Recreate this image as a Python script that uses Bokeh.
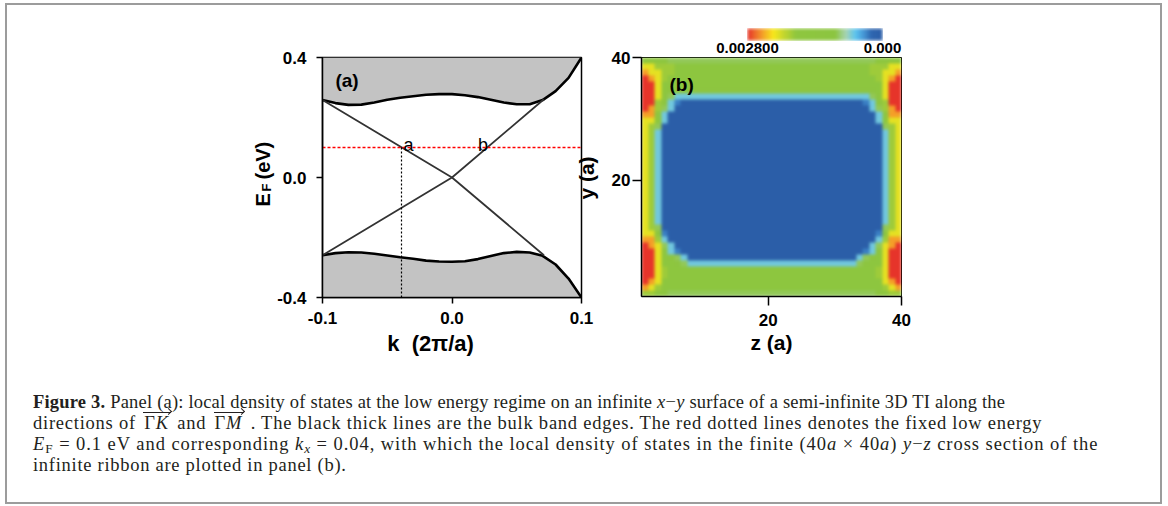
import math
import numpy as np
from bokeh.plotting import figure
from bokeh.models import (Range1d, FixedTicker, PrintfTickFormatter, Label, ColorBar,
                          LinearColorMapper, CustomJSTickFormatter, Div, CustomJS)
from bokeh.layouts import row, column
from bokeh.document import Document
from bokeh.events import DocumentReady
from bokeh.embed import file_html
from bokeh.resources import INLINE
from bokeh.core.properties import value

# ---------------- Panel (a) data ----------------
K_RANGE = [-0.1, 0.1]
E_RANGE = [-0.4, 0.4]
K_TICKS = [-0.1, 0.0, 0.1]
E_TICKS = [-0.4, 0.0, 0.4]

K_EDGE = [-0.1, -0.09, -0.08, -0.07, -0.06, -0.05, -0.04, -0.03, -0.02, -0.01, 0.0,
          0.01, 0.02, 0.03, 0.04, 0.05, 0.06, 0.07, 0.08, 0.09, 0.1]
E_UPPER = [0.258, 0.248, 0.242, 0.243, 0.250, 0.259, 0.266, 0.271, 0.276, 0.278, 0.278,
           0.274, 0.268, 0.259, 0.250, 0.244, 0.244, 0.258, 0.288, 0.332, 0.400]
E_LOWER = [-0.259, -0.252, -0.249, -0.250, -0.254, -0.260, -0.266, -0.271, -0.277, -0.280, -0.281,
           -0.279, -0.272, -0.262, -0.252, -0.248, -0.250, -0.261, -0.290, -0.337, -0.400]

SURF_K = [-0.1, 0.0, 0.071]
SURF_E_DOWN = [0.258, 0.0, -0.259]
SURF_E_UP = [-0.259, 0.0, 0.261]

FERMI_E = 0.1
KX_MARK = -0.039
POINT_LABELS = ["a", "b"]
POINT_LABEL_K = [-0.0374, 0.020]

# ---------------- Panel (b) data ----------------
LDOS_MAX = 0.0028
Z_RANGE = [1, 40]
Y_RANGE = [1, 40]
Z_TICKS = [20, 40]
Y_TICKS = [20, 40]
# LDOS levels (0..9 -> level/9 * LDOS_MAX), rows y=40 (top) .. y=1 (bottom),
# columns z=1..20 (left half; the right half mirrors it)
LDOS_LEFT = [
    "55443333333333333333",  # y=40
    "77666555555555555555",
    "87766555555555555555",
    "98765555555555555555",
    "99755555555555555555",
    "99754444444444444444",  # y=35
    "99743222222222222222",
    "99642100000000000000",
    "98632000000000000000",
    "88520000000000000000",
    "77520000000000000000",  # y=30
    "76300000000000000000",
    "76200000000000000000",
    "76200000000000000000",
    "76200000000000000000",
    "76200000000000000000",  # y=25
    "76200000000000000000",
    "76200000000000000000",
    "76200000000000000000",
    "76200000000000000000",
    "76200000000000000000",  # y=20
    "76200000000000000000",
    "76200000000000000000",
    "76200000000000000000",
    "76200000000000000000",
    "76200000000000000000",  # y=15
    "76200000000000000000",
    "76200000000000000000",
    "76300000000000000000",
    "77410000000000000000",
    "88620000000000000000",  # y=10
    "98732000000000000000",
    "99742100000000000000",
    "99754320000000000000",
    "99755432222222222222",
    "99765555555555555555",  # y=5
    "99765555555555555555",
    "98755555555555555555",
    "87655555555555555555",
    "66543333333333333333",  # y=1
]

# colour scale stops (fraction of LDOS_MAX -> colour)
CMAP_T = [0.0, 0.08, 0.15, 0.2, 0.27, 0.35, 0.64, 0.74, 0.81, 0.9, 1.0]
CMAP_C = ["#2b5ea8", "#2e66b0", "#4aa0dc", "#5cc4ef", "#a8d4b4", "#8cc540",
          "#8ec63f", "#c9d82c", "#f9e81b", "#f3962a", "#e6342a"]


def hex2rgb(h):
    return [int(h[i:i + 2], 16) for i in (1, 3, 5)]


def build_palette(n=256):
    rgbs = [hex2rgb(c) for c in CMAP_C]
    pal = []
    for i in range(n):
        t = 1.0 - i / (n - 1)  # index 0 = high value (red)
        for j in range(len(CMAP_T) - 1):
            if CMAP_T[j] <= t <= CMAP_T[j + 1]:
                f = (t - CMAP_T[j]) / (CMAP_T[j + 1] - CMAP_T[j])
                c = [round(rgbs[j][m] + f * (rgbs[j + 1][m] - rgbs[j][m])) for m in range(3)]
                break
        pal.append("#%02x%02x%02x" % tuple(c))
    return pal


PALETTE = build_palette()

rows_full = [s + s[::-1] for s in LDOS_LEFT]
ldos = np.array([[int(ch) for ch in r] for r in rows_full], dtype=float)[::-1] / 9.0 * LDOS_MAX

SANS = "Liberation Sans"
TICK_FS = "17px"
LAB_FS = "21px"


def style_axis(ax, ticks, fmt=None, tick_out=6, standoff=8):
    ax.ticker = FixedTicker(ticks=ticks)
    if fmt is not None:
        ax.formatter = fmt
    ax.major_label_text_font = SANS
    ax.major_label_text_font_style = "bold"
    ax.major_label_text_font_size = TICK_FS
    ax.major_label_text_color = "black"
    ax.axis_label_text_font = SANS
    ax.axis_label_text_font_style = "bold"
    ax.axis_label_text_font_size = LAB_FS
    ax.axis_label_text_color = "black"
    ax.axis_line_color = "black"
    ax.axis_line_width = 1.5
    ax.major_tick_line_color = "black"
    ax.major_tick_line_width = 1.5
    ax.major_tick_out = tick_out
    ax.major_tick_in = 0
    ax.minor_tick_line_color = None
    ax.major_label_standoff = standoff


def side_label(fig, x, y, txt, fs, align="left"):
    fig.add_layout(Label(x=x, y=y, text=txt, angle=math.pi / 2, text_font=SANS,
                         text_font_style="bold", text_font_size=fs, text_color="black",
                         text_align=align, text_baseline="alphabetic"), "left")


# ---------------- Panel (a) figure ----------------
pa = figure(width=600, height=365, frame_width=259, frame_height=240,
            min_border_left=315, min_border_right=26, min_border_top=51, min_border_bottom=74,
            x_range=Range1d(*K_RANGE), y_range=Range1d(*E_RANGE),
            output_backend="svg", toolbar_location=None)
pa.grid.visible = False
pa.outline_line_color = "black"
pa.outline_line_width = 1.5
pa.background_fill_color = "white"
pa.border_fill_alpha = 0

style_axis(pa.xaxis[0], K_TICKS, PrintfTickFormatter(format="%.1f"), 6, 8)
style_axis(pa.yaxis[0], E_TICKS, PrintfTickFormatter(format="%.1f"), 6, 10)
# label sits left of the frame centre in the original: trailing no-break spaces shift it
pa.xaxis.axis_label = "k\u00a0\u00a0(2π/a)" + "\u00a0" * 7
pa.xaxis.axis_label_text_font_size = "22px"
pa.xaxis.axis_label_standoff = 4

n = len(K_EDGE)
pa.varea(x=K_EDGE, y1=E_UPPER, y2=[E_RANGE[1]] * n, fill_color="#c3c3c3")
pa.varea(x=K_EDGE, y1=[E_RANGE[0]] * n, y2=E_LOWER, fill_color="#c3c3c3")
pa.line(K_EDGE, E_UPPER, line_color="black", line_width=2.6)
pa.line(K_EDGE, E_LOWER, line_color="black", line_width=2.6)
pa.line(SURF_K, SURF_E_DOWN, line_color="#333333", line_width=1.8)
pa.line(SURF_K, SURF_E_UP, line_color="#333333", line_width=1.8)
pa.line(K_RANGE, [FERMI_E, FERMI_E], line_color="red", line_width=1.5, line_dash="3 2")
pa.line([KX_MARK, KX_MARK], [E_RANGE[0], FERMI_E], line_color="black", line_width=1.2, line_dash="2 2")
pa.text(x=POINT_LABEL_K, y=[FERMI_E + 0.008] * 2, text=POINT_LABELS,
        text_font=value(SANS), text_font_size="18px", text_color="black",
        text_baseline="alphabetic", text_align="left")

pa.add_layout(Label(x=-0.09, y=0.325, text="(a)", text_font=SANS, text_font_style="bold",
                    text_font_size="19px", text_color="black", text_baseline="alphabetic"))
# y-axis label E_F (eV), rotated, in a side panel so it is not clipped to the frame
side_label(pa, -0.1456, -0.0967, "E", "20px")
side_label(pa, -0.1433, -0.0467, "F", "13px")
side_label(pa, -0.1456, -0.0067, "(eV)", "20px")
# y-axis label of panel (b): lies in the gap between the panels
side_label(pa, 0.1035, -0.0017, "y (a)", LAB_FS, "center")

# ---------------- Panel (b) figure ----------------
pb = figure(width=553, height=365, frame_width=260, frame_height=239,
            min_border_left=34, min_border_right=259, min_border_top=52, min_border_bottom=74,
            x_range=Range1d(*Z_RANGE), y_range=Range1d(*Y_RANGE),
            output_backend="svg", toolbar_location=None)
pb.grid.visible = False
pb.outline_line_color = "black"
pb.outline_line_width = 1
pb.background_fill_color = "white"
pb.border_fill_alpha = 0

mapper = LinearColorMapper(palette=PALETTE, low=LDOS_MAX, high=0.0)
pb.image(image=[ldos], x=Z_RANGE[0], y=Y_RANGE[0], dw=Z_RANGE[1] - Z_RANGE[0],
         dh=Y_RANGE[1] - Y_RANGE[0], color_mapper=mapper)

style_axis(pb.xaxis[0], Z_TICKS, None, 9, 8)
style_axis(pb.yaxis[0], Y_TICKS, None, 9, 2)
pb.xaxis.axis_label = "z (a)"
pb.xaxis.axis_label_standoff = 2

pb.add_layout(Label(x=5.2, y=35.6, text="(b)", text_font=SANS, text_font_style="bold",
                    text_font_size="19px", text_color="black", text_baseline="alphabetic"))

cb = ColorBar(color_mapper=mapper, orientation="horizontal", width=135, height=12,
              location=(106, 241), padding=0, margin=0, label_standoff=2,
              ticker=FixedTicker(ticks=[0.0, LDOS_MAX]),
              formatter=CustomJSTickFormatter(code="return tick > 0.001 ? '0.002800' : '0.000'"),
              major_tick_line_color=None, minor_tick_line_color=None, bar_line_color=None,
              border_line_color=None, background_fill_alpha=0,
              major_label_text_font=SANS, major_label_text_font_style="bold",
              major_label_text_font_size="15px", major_label_text_color="black")
pb.add_layout(cb, "center")

# ---------------- Caption ----------------
INK = "#231f20"


def vec(sym):
    return ('<span style="position:relative;display:inline-block;padding:0 3px;">'
            f'<span style="position:absolute;left:2px;right:1px;top:-1.5px;border-top:1px solid {INK};"></span>'
            f'<span style="position:absolute;right:1px;top:-4px;width:5px;height:5px;'
            f'border-top:1px solid {INK};border-right:1px solid {INK};transform:rotate(45deg);"></span>'
            f'Γ<i>{sym}</i></span>')


SUB = 'style="font-size:0.72em;vertical-align:-0.22em;line-height:0;"'
CAPTION_LINES = [
    '<b>Figure 3.</b> Panel (a): local density of states at the low energy regime on an infinite '
    '<i>x</i>−<i>y</i> surface of a semi-infinite 3D TI along the',
    f'directions of {vec("K")} and {vec("M")} . The black thick lines are the bulk band edges. '
    'The red dotted lines denotes the fixed low energy',
    f'<i>E</i><span {SUB}>F</span> = 0.1 eV and corresponding <i>k</i><span {SUB}><i>x</i></span> = 0.04, '
    'with which the local density of states in the finite (40<i>a</i> × 40<i>a</i>) '
    '<i>y</i>−<i>z</i> cross section of the',
    'infinite ribbon are plotted in panel (b).',
]
LINE_SPACING = ["0.2px", "0.76px", "0.94px", "0.72px"]
caption_html = (f'<div style="font-family:\'Liberation Serif\';font-size:18.5px;line-height:21px;'
                f'color:{INK};white-space:nowrap;padding:22px 0 0 26px;">'
                + "<br>".join(f'<span style="letter-spacing:{ls};">{ln}</span>'
                              for ln, ls in zip(CAPTION_LINES, LINE_SPACING))
                + '</div>')
cap = Div(text=caption_html, width=1153, height=132, margin=0)

layout = column(row(pa, pb, spacing=0), cap, spacing=0, margin=(3, 0, 0, 5),
                styles={"border": "2px solid #9c9c9c", "background-color": "white"})

# display-only smoothing of the lattice image (the data grid itself is unchanged)
SMOOTH_JS = """
const NS = 'http://www.w3.org/2000/svg';
function smooth(root) {
  for (const im of root.querySelectorAll('image')) {
    const svg = im.ownerSVGElement;
    if (!svg || im.getAttribute('data-smoothed')) continue;
    const r = im.getBoundingClientRect();
    const uw = im.width && im.width.baseVal ? im.width.baseVal.value : r.width;
    const scale = (uw > 0 && r.width > 0) ? r.width / uw : 1;
    const fid = 'ldos-smooth-' + Math.floor(Math.random() * 1e9);
    const defs = document.createElementNS(NS, 'defs');
    const f = document.createElementNS(NS, 'filter');
    f.setAttribute('id', fid);
    f.setAttribute('x', '0'); f.setAttribute('y', '0');
    f.setAttribute('width', '1'); f.setAttribute('height', '1');
    f.setAttribute('color-interpolation-filters', 'sRGB');
    const g = document.createElementNS(NS, 'feGaussianBlur');
    g.setAttribute('stdDeviation', String(1.8 / scale));
    g.setAttribute('edgeMode', 'duplicate');
    f.appendChild(g); defs.appendChild(f);
    svg.insertBefore(defs, svg.firstChild);
    im.setAttribute('filter', 'url(#' + fid + ')');
    im.setAttribute('data-smoothed', '1');
  }
  for (const el of root.querySelectorAll('*')) { if (el.shadowRoot) smooth(el.shadowRoot); }
}
smooth(document);
for (const t of [30, 150, 400, 900, 1600, 2500, 4000]) setTimeout(() => smooth(document), t);
"""

doc = Document()
doc.add_root(layout)
doc.js_on_event(DocumentReady, CustomJS(code=SMOOTH_JS))

open("out.html", "w").write(file_html(doc, INLINE))
